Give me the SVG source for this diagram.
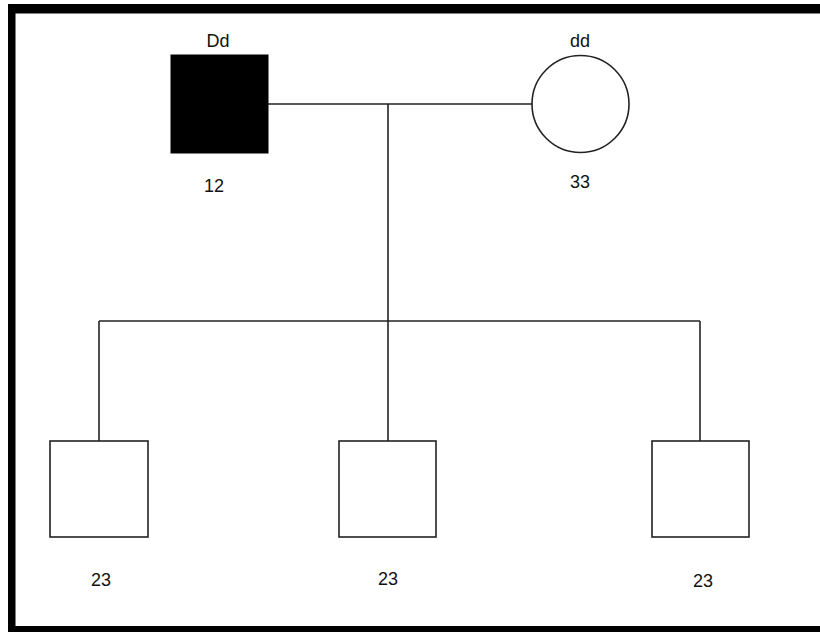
<svg xmlns="http://www.w3.org/2000/svg" width="820" height="632" viewBox="0 0 820 632">
<style>
.ln{stroke:#222;stroke-width:1.6;fill:none}
.nd{stroke:#222;stroke-width:1.6;fill:#fff}
.t{font-family:"Liberation Sans",Arial,sans-serif;font-size:18px;fill:#111;text-anchor:middle}
</style>
<rect x="0" y="0" width="820" height="632" fill="#fff"/>
<g id="frame" fill="#000">
<rect x="8" y="4" width="812" height="9.5"/>
<rect x="8" y="4" width="7.5" height="628"/>
<rect x="8" y="626" width="812" height="6"/>
</g>
<g id="connectors">
<line class="ln" x1="268" y1="104" x2="532" y2="104"/>
<line class="ln" x1="388" y1="104" x2="388" y2="441"/>
<line class="ln" x1="99" y1="321" x2="700" y2="321"/>
<line class="ln" x1="99" y1="321" x2="99" y2="441"/>
<line class="ln" x1="700" y1="321" x2="700" y2="441"/>
</g>
<g id="father">
<rect x="171" y="55" width="97" height="98" fill="#000" stroke="#000"/>
<text class="t" x="218" y="47">Dd</text>
<text class="t" x="214" y="192">12</text>
</g>
<g id="mother">
<circle class="nd" cx="580.5" cy="104" r="48.5"/>
<text class="t" x="580" y="47">dd</text>
<text class="t" x="580" y="188">33</text>
</g>
<g id="child1">
<rect class="nd" x="50" y="441" width="98" height="96"/>
<text class="t" x="101" y="586">23</text>
</g>
<g id="child2">
<rect class="nd" x="339" y="441" width="97" height="96"/>
<text class="t" x="388" y="585">23</text>
</g>
<g id="child3">
<rect class="nd" x="652" y="441" width="97" height="96"/>
<text class="t" x="703" y="587">23</text>
</g>
</svg>
